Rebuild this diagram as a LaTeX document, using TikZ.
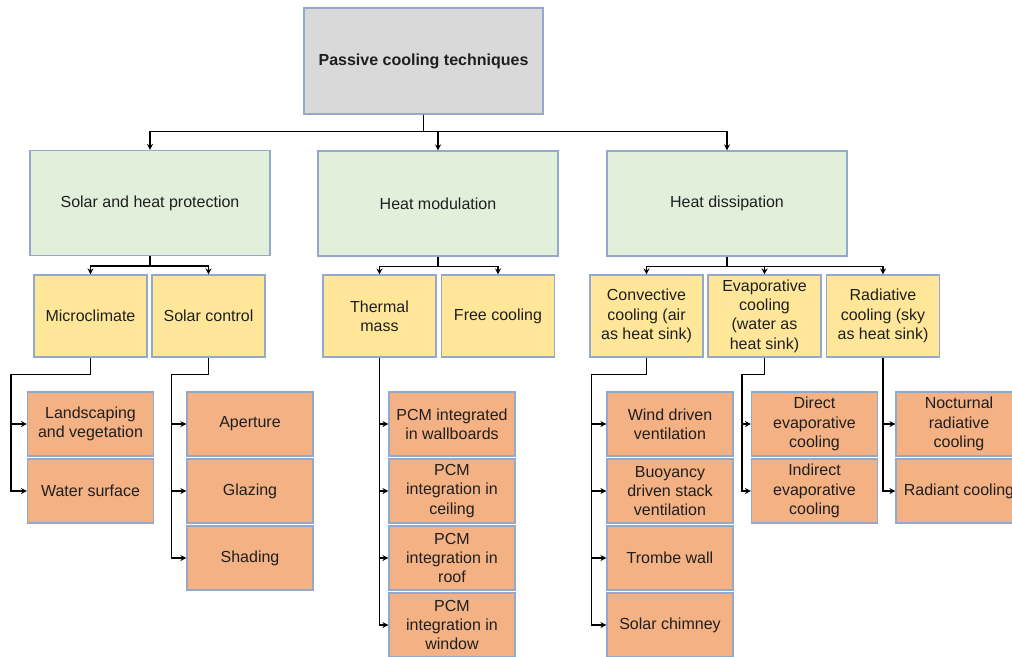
\documentclass[tikz,border=0pt]{standalone}
\usepackage{fontspec}
\setmainfont{Liberation Sans}
\usetikzlibrary{arrows.meta}

\definecolor{boxline}{HTML}{93A9CB}
\definecolor{rootfill}{HTML}{D9D9D9}
\definecolor{groupfill}{HTML}{E2EFDA}
\definecolor{classfill}{HTML}{FFE699}
\definecolor{itemfill}{HTML}{F4B183}

\tikzset{
  basebox/.style={draw=boxline, line width=1.1bp, rectangle, align=center,
    inner sep=0pt, text=black!88, font=\fontsize{16bp}{19.3bp}\selectfont},
  rootbox/.style={basebox, fill=rootfill, minimum width=239bp, minimum height=106bp,
    font=\fontsize{16bp}{19.3bp}\selectfont\bfseries},
  groupbox/.style={basebox, fill=groupfill, minimum width=240bp, minimum height=105bp},
  classbox/.style={basebox, fill=classfill, minimum width=113bp, minimum height=82bp},
  itembox/.style={basebox, fill=itemfill, minimum width=126bp, minimum height=64bp},
  link/.style={draw=black, line width=1.8bp,
    -{Stealth[length=6bp,width=6bp]}},
}

\begin{document}
\begin{tikzpicture}[x=1bp,y=-1bp]
\useasboundingbox (0,0) rectangle (1012,657);
\clip (0,0) rectangle (1012,657);

% top of the hierarchy
\node[rootbox] (root) at (423.5,61) {Passive cooling techniques};

% main strategies
\node[groupbox] (sol) at (150,203)   {Solar and heat protection};
\node[groupbox] (mod) at (438,203.5) {Heat modulation};
\node[groupbox] (dis) at (727,203.5) {Heat dissipation};

% technique classes
\node[classbox] (micro) at (90.5,316)  {Microclimate};
\node[classbox] (solc)  at (208.5,316) {Solar control};
\node[classbox] (therm) at (379.5,316) {Thermal\\mass};
\node[classbox] (free)  at (498,316)   {Free cooling};
\node[classbox] (conv)  at (646.5,316) {Convective\\cooling (air\\as heat sink)};
\node[classbox] (evap)  at (764.5,316) {Evaporative\\cooling\\(water as\\heat sink)};
\node[classbox] (rad)   at (883,316)   {Radiative\\cooling (sky\\as heat sink)};

% individual techniques
\node[itembox] (land)  at (90.5,424) {Landscaping\\and vegetation};
\node[itembox] (water) at (90.5,491) {Water surface};

\node[itembox] (aper)  at (250,424) {Aperture};
\node[itembox] (glaz)  at (250,491) {Glazing};
\node[itembox] (shad)  at (250,558) {Shading};

\node[itembox] (pwall) at (452,424) {PCM integrated\\in wallboards};
\node[itembox] (pceil) at (452,491) {PCM\\integration in\\ceiling};
\node[itembox] (proof) at (452,558) {PCM\\integration in\\roof};
\node[itembox] (pwin)  at (452,625) {PCM\\integration in\\window};

\node[itembox] (wind)  at (670,424) {Wind driven\\ventilation};
\node[itembox] (buoy)  at (670,491) {Buoyancy\\driven stack\\ventilation};
\node[itembox] (tromb) at (670,558) {Trombe wall};
\node[itembox] (chim)  at (670,625) {Solar chimney};

\node[itembox] (direct)   at (814.5,424) {Direct\\evaporative\\cooling};
\node[itembox] (indirect) at (814.5,491) {Indirect\\evaporative\\cooling};

\node[itembox] (noct)  at (959,424) {Nocturnal\\radiative\\cooling};
\node[itembox] (radc)  at (959,491) {Radiant cooling};

% root to strategies
\draw[link] (root.south) -- ++(0,17) -| (sol.north);
\draw[link] (root.south) -- ++(0,17) -| (mod.north);
\draw[link] (root.south) -- ++(0,17) -| (dis.north);

% strategies to classes
\draw[link] (sol.south) -- ++(0,10) -| (micro.north);
\draw[link] (sol.south) -- ++(0,10) -| (solc.north);
\draw[link] (mod.south) -- ++(0,10) -| (therm.north);
\draw[link] (mod.south) -- ++(0,10) -| (free.north);
\draw[link] (dis.south) -- ++(0,10) -| (conv.north);
\draw[link] (dis.south) -- ++(0,10) -| (evap.north);
\draw[link] (dis.south) -- ++(0,10) -| (rad.north);

% classes to techniques (side rails)
\draw[link] (micro.south) -- ++(0,17) -| ([xshift=-16bp]water.west) -- (water.west);
\draw[link] ([xshift=-16bp]land.west) -- (land.west);

\draw[link] (solc.south) -- ++(0,17) -| ([xshift=-15bp]shad.west) -- (shad.west);
\draw[link] ([xshift=-15bp]aper.west) -- (aper.west);
\draw[link] ([xshift=-15bp]glaz.west) -- (glaz.west);

\draw[link] (therm.south) |- (pwin.west);
\draw[link] ([xshift=-9bp]pwall.west) -- (pwall.west);
\draw[link] ([xshift=-9bp]pceil.west) -- (pceil.west);
\draw[link] ([xshift=-9bp]proof.west) -- (proof.west);

\draw[link] (conv.south) -- ++(0,17) -| ([xshift=-15bp]chim.west) -- (chim.west);
\draw[link] ([xshift=-15bp]wind.west) -- (wind.west);
\draw[link] ([xshift=-15bp]buoy.west) -- (buoy.west);
\draw[link] ([xshift=-15bp]tromb.west) -- (tromb.west);

\draw[link] (evap.south) -- ++(0,17) -| ([xshift=-9bp]indirect.west) -- (indirect.west);
\draw[link] ([xshift=-9bp]direct.west) -- (direct.west);

\draw[link] (rad.south) |- (radc.west);
\draw[link] ([xshift=-13bp]noct.west) -- (noct.west);
\end{tikzpicture}
\end{document}
